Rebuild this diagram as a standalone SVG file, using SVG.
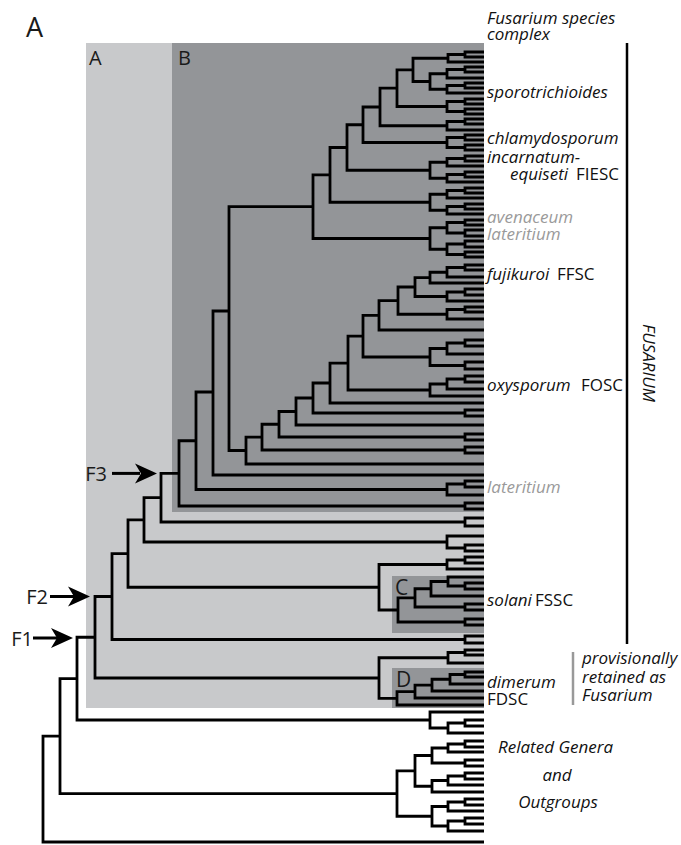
<svg xmlns="http://www.w3.org/2000/svg" width="681" height="845" viewBox="0 0 681 845">
<style>
.t{fill:none;stroke:#000;stroke-width:2.8;stroke-linejoin:miter;stroke-linecap:butt}
.lab{font-family:"Open Sans","Liberation Sans",sans-serif;font-size:17px;font-style:italic;fill:#111}
.up{font-style:normal}
.gr{fill:#9a9a9a}
.big{font-family:"Open Sans","Liberation Sans",sans-serif;fill:#1a1a1a}
.ar{fill:#000}
.arl{stroke:#000;stroke-width:3;fill:none}
</style>
<rect width="681" height="845" fill="#fff"/>
<g id="backgrounds">
<rect id="bgA" x="86" y="43" width="398" height="665" fill="#c8c9cb"/>
<rect id="bgB" x="172" y="43" width="312" height="469" fill="#939598"/>
<rect id="bgC" x="392" y="576" width="92" height="57" fill="#939598"/>
<rect id="bgD" x="392" y="668" width="92" height="40" fill="#939598"/>
</g>
<g id="region-labels" class="big">
<text x="26" y="37" font-size="27">A</text>
<text x="89" y="65" font-size="20">A</text>
<text x="178" y="65" font-size="20">B</text>
<text x="395" y="595" font-size="21">C</text>
<text x="396" y="687" font-size="21">D</text>
</g>
<g id="connectors" class="t">
<path id="clade-top" d="M484 52H465V57H484M465 54.5H448V62H484M484 67H465V72H484M465 69.5H447V78H484M484 83H465V88H484M465 85.5H447V93H484M447 73.75H430V89.25H447M448 58.25H413V81.5H430M484 99H465V104H484M484 109H465V114H484M465 101.5H447V111.5H465M413 69.9H397V106.5H447M484 119H465V124H484M465 121.5H447V130H484M397 88.2H380V125.75H447M484 135H465V140H484M484 145H465V150H484M465 137.5H447V147.5H465M380 107H363V142.5H447M484 156H465V161H484M465 158.5H447V166H484M484 172H465V177H484M465 174.5H447V182H484M447 162.25H430V178.25H447M363 124.75H347V170.25H430M484 188H465V193H484M465 190.5H447V198H484M484 204H465V209H484M465 206.5H447V214H484M447 194.25H430V210.25H447M347 147.5H330V202.25H430M484 220H465V225H484M484 230H465V236H484M465 222.5H447V233H465M484 241H465V247H484M484 252H465V257H484M465 244H447V254.5H465M447 227.75H430V249.25H447M330 174.9H313V238.5H430"/>
<path id="clade-fusarium-core" d="M484 265H465V270H484M465 267.5H447V277H484M447 272.25H430V283H484M484 289H465V295H484M465 292H447V301H484M430 277.6H415V296.5H447M484 307H465V312H484M465 309.5H447V319H484M415 287H398V314.25H447M398 300.6H379V330H484M484 340H465V346H484M465 343H447V354H484M484 362H465V369H484M447 348.5H430V365.5H465M379 315.3H363V357H430M484 376H465V382H484M465 379H447V389H484M447 384H430V396H484M363 336.15H348V390H430M348 363.1H330V403H484M484 410H465V416H484M330 383H313V413H465M313 398H296V425H484M484 434H465V440H484M296 411.5H279V437H465M484 447H465V453H484M279 424.25H262V450H465M262 437.1H246V464H484M313 206.7H229V450.5H246M229 311H213V475H484M484 481H465V487H484M465 484H447V495H484M213 392H196V489.5H447M484 503H465V509H484M196 440.75H179V506H465M484 518H465V526H484M179 473.4H161V522H465"/>
<path id="clade-lower-A" d="M484 545H465V551H484M484 536H447V548H465M161 497.7H144V542H447M484 557H465V563H484M465 560H447V569H484M484 583H465V589H484M484 577H448V586H465M448 581.5H431V596H484M484 604H465V610H484M431 588.75H415V607H465M484 619H465V625H484M415 597.9H398V622H465M447 564.5H379V610H398M144 519.85H128V587.25H379M484 636H465V643H484M128 553.55H112V639.5H465M484 650H465V655H484M465 652.5H448V663H484M484 672H465V677H484M465 674.5H450V684H484M450 679.25H432V691H484M432 685.1H415V698H484M415 691.55H397V705H484M448 657.75H379V698.3H397M112 596.5H95V678H379"/>
<path id="clade-outgroups" d="M484 720H465V726H484M465 723H448V733H484M484 712H430V728H448M95 637.25H77V720H430M484 741H465V747H484M465 744H448V752H484M484 760H465V766H484M448 748H432V763H465M484 773H465V779H484M465 776H448V785H484M448 780.5H432V792H484M432 755.5H415V786.25H432M484 799H465V805H484M465 802H448V811H484M484 818H465V824H484M465 821H448V831H484M448 806.5H432V826H448M415 770.9H397V816.25H432M77 678.6H60V793.6H397M60 736.1H43V842H484"/>
</g>
<g id="arrows">
<g id="arrow-F3"><line class="arl" x1="112" y1="473.4" x2="140" y2="473.4"/><path class="ar" d="M157 473.4L135 463.4L141 473.4L135 483.4Z"/><text class="big" x="107" y="481" font-size="20" text-anchor="end">F3</text></g>
<g id="arrow-F2"><line class="arl" x1="50" y1="596.5" x2="74" y2="596.5"/><path class="ar" d="M90 596.5L68 586.5L74 596.5L68 606.5Z"/><text class="big" x="48" y="604" font-size="20" text-anchor="end">F2</text></g>
<g id="arrow-F1"><line class="arl" x1="33" y1="638" x2="57" y2="638"/><path class="ar" d="M73 638L51 628L57 638L51 648Z"/><text class="big" x="33" y="646" font-size="20" text-anchor="end">F1</text></g>
</g>
<g id="labels" class="lab">
<text x="487" y="24">Fusarium species</text>
<text x="487" y="40">complex</text>
<text x="487" y="98">sporotrichioides</text>
<text x="487" y="144">chlamydosporum</text>
<text x="487" y="163">incarnatum-</text>
<text x="510" y="180">equiseti<tspan class="up" x="576">FIESC</tspan></text>
<text class="lab gr" x="487" y="223">avenaceum</text>
<text class="lab gr" x="487" y="240">lateritium</text>
<text x="487" y="280">fujikuroi<tspan class="up" x="557">FFSC</tspan></text>
<text x="487" y="391">oxysporum<tspan class="up" x="581">FOSC</tspan></text>
<text class="lab gr" x="487" y="493">lateritium</text>
<text x="487" y="606">solani<tspan class="up" x="535">FSSC</tspan></text>
<text x="487" y="688">dimerum</text>
<text class="up" x="487" y="705">FDSC</text>
<text x="582" y="664">provisionally</text>
<text x="582" y="683">retained as</text>
<text x="582" y="701">Fusarium</text>
<text x="498" y="753">Related Genera</text>
<text x="557" y="781" text-anchor="middle">and</text>
<text x="558" y="808" text-anchor="middle">Outgroups</text>
</g>
<g id="fusarium-bar">
<line x1="627" y1="43" x2="627" y2="644" stroke="#000" stroke-width="2.5"/>
<text class="lab" transform="translate(643,363) rotate(90)" text-anchor="middle" font-size="16.8">FUSARIUM</text>
</g>
<g id="provisional-bar">
<line x1="573" y1="652" x2="573" y2="705" stroke="#999" stroke-width="2.5"/>
</g>
</svg>
